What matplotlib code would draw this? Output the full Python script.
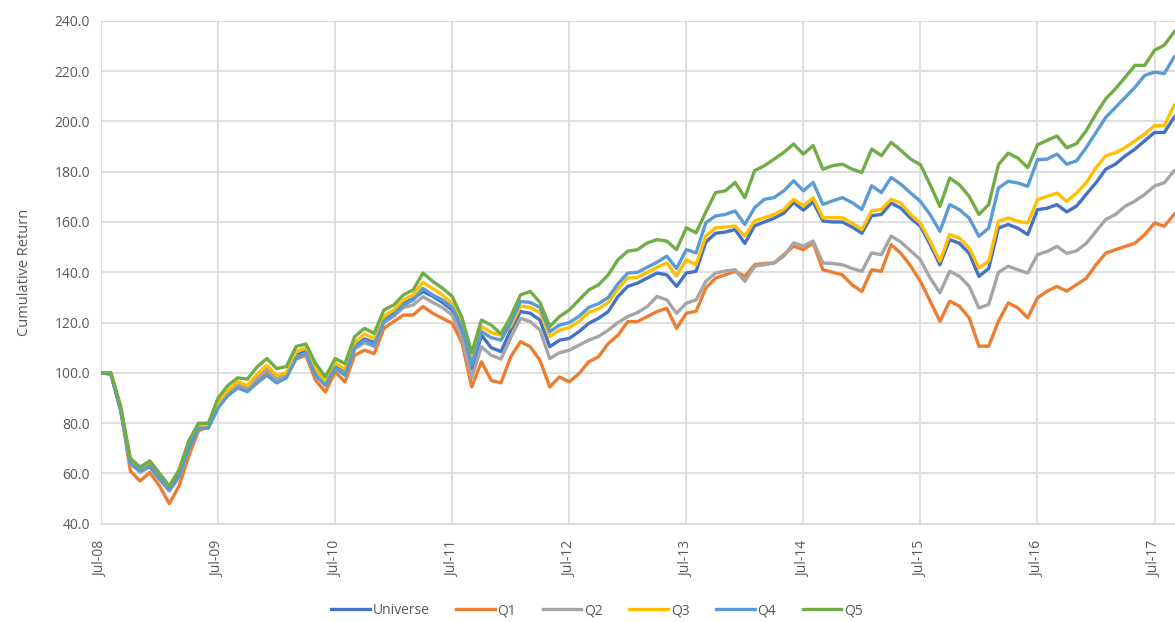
import matplotlib
matplotlib.use("Agg")
import matplotlib.pyplot as plt

plt.rcParams['font.family'] = ['Open Sans', 'DejaVu Sans']

tick_labels = ["Jul-08", "Jul-09", "Jul-10", "Jul-11", "Jul-12", "Jul-13",
               "Jul-14", "Jul-15", "Jul-16", "Jul-17"]

universe = [100, 100, 85.5, 64.5, 61, 63, 58, 53.5, 59, 70.5, 78, 78.5,
            87, 92, 95, 94, 98, 101.5, 97.5, 99, 107, 108.5, 100, 95.5,
            102.5, 100, 110.5, 113.5, 112, 121, 123.5, 127.5, 129.5, 132.3, 130.5, 128,
            125, 117, 101.5, 115, 110, 108.5, 117, 124.4, 123.7, 121, 110.4, 113,
            113.7, 116.4, 119.7, 121.7, 124.4, 130.4, 134.4, 135.7, 137.7, 139.7, 139, 134.4,
            139.7, 140.4, 152, 155.5, 156, 157, 151.5, 158.5, 160, 161.5, 163.5, 167.7,
            164.7, 168, 160.4, 160, 160, 158, 155.5, 162.5, 163, 167.5, 165.5, 161.5,
            158.3, 151, 143, 153, 151.5, 147.5, 138.4, 141.5, 157.6, 159, 157.5, 155,
            164.9, 165.5, 166.9, 164, 166.3, 171, 175.6, 181, 183, 186.3, 189, 192.3,
            195.6, 195.6, 201.6, 204]

q1 = [100, 99.5, 86, 61, 57, 60.4, 55, 48, 55, 67, 77, 78.5,
      87, 91, 94, 93, 96, 100, 97, 98.5, 105.5, 107, 97, 92.4,
      100.4, 96.4, 107, 109, 107.7, 117.7, 120.4, 123, 123, 126.4, 123.7, 121.7,
      119.7, 112, 94.4, 104.4, 97, 96, 106.4, 112.4, 110.4, 105, 94.4, 98.4,
      96.4, 99.7, 104.4, 106.4, 111.7, 115, 120.4, 120.4, 122.4, 124.4, 125.7, 117.7,
      123.7, 124.5, 133.7, 137.7, 139, 140.4, 138.4, 143, 143.5, 143.7, 147, 150.4,
      149, 151.7, 141, 140, 139, 135, 132.4, 141, 140.4, 151, 147.5, 142.5,
      136.4, 128.5, 120.5, 128.5, 126.5, 121.9, 110.6, 110.6, 120.5, 127.8, 125.8, 121.9,
      129.8, 132.5, 134.4, 132.5, 135.1, 137.6, 143, 147.6, 149, 150.3, 151.6, 155,
      159.6, 158.3, 163, 166]

q2 = [100, 100, 85.5, 64, 60.5, 62.5, 57.5, 53, 58.5, 70, 78, 78.5,
      87, 92, 95.5, 94, 98, 101.5, 97.5, 99, 106.5, 107.5, 99.5, 95,
      102, 99.5, 109.5, 112, 110.5, 120, 122.5, 126, 127, 130.3, 128, 126,
      123, 114, 98, 110.4, 107, 105.5, 114, 121.7, 120.4, 117, 105.7, 108,
      109, 111, 113, 114.5, 117, 120, 122.4, 124, 126.4, 130.4, 129, 123.7,
      127.7, 129, 136.4, 139.7, 140.5, 141, 136.4, 142.4, 143, 143.7, 146.4, 151.7,
      150.4, 152.4, 143.7, 143.5, 143, 141.5, 140.4, 147.7, 147, 154.4, 152, 148.5,
      145, 137.7, 131.8, 140.4, 138.4, 134.4, 125.8, 127.2, 140, 142.4, 141, 139.7,
      147, 148.3, 150.3, 147.5, 148.5, 151.5, 156.3, 161, 163, 166.3, 168.3, 171,
      174.3, 175.6, 180.3, 183]

q3 = [100, 100, 86, 65.5, 62, 64, 59, 54.5, 60, 71.5, 79, 79,
      88, 93, 96.5, 95, 99.5, 103, 99, 100, 108.5, 110, 101.5, 96.5,
      104, 101.5, 112, 115.5, 113.5, 122.5, 125, 129, 131, 136, 133.5, 131,
      127.5, 119.5, 104.5, 118.4, 116, 115, 118.5, 126.5, 126, 124, 114.5, 117,
      118, 120.5, 124, 125.5, 128, 133.5, 137.7, 138, 140, 142, 143.7, 138.5,
      145, 143, 154.4, 157.7, 158, 158.4, 154.4, 160.4, 161.7, 163, 165, 169,
      166.4, 169.7, 161.7, 161.7, 161.7, 159.5, 157, 164.4, 165, 169, 167.5, 163,
      159.5, 152.3, 144.4, 155, 153.6, 149.7, 141.7, 144.4, 160.3, 161.6, 160.3, 159.6,
      168.9, 170.2, 171.5, 168.2, 171.5, 175.6, 181.6, 186.3, 187.6, 189.6, 192.3, 195,
      198.3, 198.3, 206.3, 209]

q4 = [100, 99.5, 85, 64, 61, 63, 58, 53.5, 59, 70, 78, 78,
      86, 91, 94, 92.5, 96, 99, 96, 98, 106, 108, 99, 95,
      102, 99, 110, 113, 111, 120.5, 123, 127, 129, 133.6, 131, 129,
      126, 118, 103, 116.4, 114, 113, 120, 128.4, 128, 126, 116.4, 119,
      120, 122.5, 126, 127.5, 130, 135.5, 139.7, 140, 142, 144, 146.4, 141.5,
      149, 147.7, 159.7, 162.4, 163, 164.4, 159, 165.7, 169, 169.7, 172.4, 176.4,
      172.4, 175.7, 167, 168.4, 169.7, 167.7, 165, 174.4, 171.7, 177.7, 175, 171.5,
      168.2, 162.9, 156.3, 166.9, 164.9, 161.6, 154.3, 157.6, 173.5, 176.2, 175.5, 174.2,
      184.8, 185, 187, 183, 184.3, 189.6, 195.6, 201.6, 205.6, 209.6, 213.6, 218.3,
      219.6, 219, 225.6, 228]

q5 = [100, 100, 87, 66, 62.5, 65, 60, 55, 61.5, 73, 80, 80,
      90, 95, 98, 97.5, 102.4, 105.7, 101.7, 102.5, 110.5, 111.5, 103.7, 98.4,
      105.7, 103.7, 114.4, 117.7, 115.7, 125, 127, 131, 133, 139.7, 136.4, 133.7,
      130.4, 122, 108, 121, 119, 115.5, 122.4, 131, 132.4, 128, 118.4, 122.4,
      125, 129, 133, 135, 139, 145, 148.4, 149, 151.7, 153, 152.4, 149,
      157.7, 155.7, 164, 171.7, 172.4, 175.7, 169.7, 180.4, 182.4, 185, 187.7, 191,
      187, 190.4, 181, 182.4, 183, 181, 179.7, 189, 186.4, 191.7, 188.5, 185,
      182.8, 174.8, 166.2, 177.5, 174.8, 170.2, 163, 166.9, 182.8, 187.4, 185.4, 181.6,
      190.7, 192.5, 194.2, 189.5, 191.2, 196.3, 203, 209, 213, 217.6, 222.3, 222.3,
      228.3, 230.3, 235.5, 239]

series_names = ["Universe", "Q1", "Q2", "Q3", "Q4", "Q5"]
series_values = [universe, q1, q2, q3, q4, q5]
colors = ["#4472C4", "#ED7D31", "#A5A5A5", "#FFC000", "#5B9BD5", "#70AD47"]

fig = plt.figure(figsize=(11.75, 6.22), dpi=100)
ax = fig.add_axes([0.086, 0.158, 0.914, 0.8085])

months = list(range(len(universe)))
for name, vals, c in zip(series_names, series_values, colors):
    ax.plot(months, vals, color=c, lw=2.4, label=name, solid_joinstyle='round')

ax.set_xlim(0, 110.1)
ax.set_ylim(40, 240)
ax.set_yticks(range(40, 241, 20))
ax.set_yticklabels([f"{v:.1f}" for v in range(40, 241, 20)])
ax.set_xticks([12 * i for i in range(len(tick_labels))])
ax.set_xticklabels(tick_labels, rotation=90)

ax.grid(True, color="#D9D9D9", lw=1.2)
ax.set_axisbelow(True)
for s in ["top", "right", "left"]:
    ax.spines[s].set_visible(False)
ax.spines["bottom"].set_color("#D9D9D9")
ax.spines["bottom"].set_linewidth(1.2)
ax.tick_params(length=0, colors="#595959", labelsize=10)
ax.tick_params(axis='x', pad=12)
ax.tick_params(axis='y', pad=8)

ax.set_ylabel("Cumulative Return", color="#595959", fontsize=10.5, labelpad=16)

leg = fig.legend(loc="center", bbox_to_anchor=(0.508, 0.018), ncol=6, frameon=False,
                 fontsize=10, handlelength=2.8, handletextpad=0.2, columnspacing=1.9)
for t in leg.get_texts():
    t.set_color("#595959")

fig.savefig("out.png", dpi=100)
